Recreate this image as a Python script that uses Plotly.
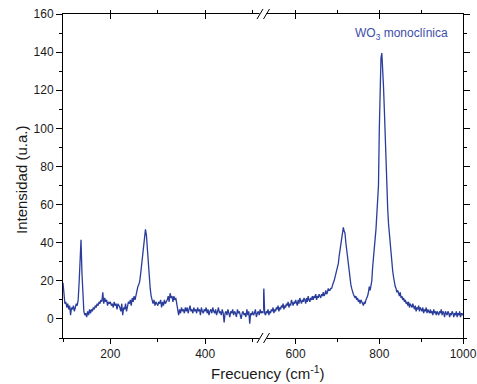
import numpy as np
import plotly.graph_objects as go

# ---- data ----
# left segment of the broken axis: 100 ... 522 cm-1, sampled every 2 cm-1
x_left_start, x_left_end, x_step = 100, 522, 2
y_left_a = [19, 12, 8, 9, 6, 8, 5, 7, 2, 6,
            5, 7, 4, 6, 8, 7, 10, 19, 30, 41.5,
            24, 11, 4, 2, 3, 1, 4, 2, 5, 3,
            5, 4, 6, 5, 7, 6, 8, 7, 9, 8,
            10, 9, 14, 8, 11, 9, 10, 7, 9, 8]
y_left_b = [9, 7, 8, 6, 9, 7, 8, 5, 8, 7,
            6, 4, 8, 2, 6, 5, 8, 4, 7, 9,
            8, 10, 7, 11, 9, 12, 10, 13, 14, 17,
            18, 20, 24, 29, 34, 40, 44, 47, 44, 36,
            28, 21, 16, 12, 10, 8, 10, 7, 9, 8]
y_left_c = [7, 9, 8, 10, 6, 9, 7, 10, 8, 9,
            10, 12, 9, 13.5, 11, 12, 9, 12, 10, 11,
            8, 4, 2, 5, 3, 6, 4, 5, 3, 6,
            4, 6, 3, 5, 7, 4, 5, 3, 6, 4,
            5, 3, 6, 4, 5, 2, 6, 4, 3, 5]
y_left_d = [4, 6, 3, 5, 2, 4, 5, 3, 6, 4,
            3, 5, 2, 4, 6, 3, 4, 2, 5, 3,
            -1.8, 3, 4, 2, 5, 3, 1, 4, 3, 5,
            2, 4, 3, 1, 5, 3, 4, 2, 0, 3,
            4, 2, 3, 1, 5, 2, 4, -2.5, 3, 2,
            4, 2, 3, 5, 1, 3, 4, 2, 5, 3,
            4, 3]

# right segment of the broken axis: 522 ... 1000 cm-1, sampled every 2 cm-1
x_right_start, x_right_end = 522, 1000
y_right_a = [3, 16, 3, 2, 4, 3, 5, 2, 4, 3,
             5, 4, 6, 3, 5, 4, 6, 5, 7, 4,
             6, 5, 7, 6, 8, 5, 7, 6, 8, 7,
             9, 6, 8, 7, 10, 8, 7, 9, 8, 10,
             9, 7, 10, 8, 11, 9, 8, 10, 9, 11,
             10, 8, 11, 9, 12, 10, 9, 11, 10, 12,
             10, 12, 11, 13, 10, 12, 11, 13, 12, 11,
             13, 12, 14, 12, 13, 15, 13, 14, 16, 15]
y_right_b = [15, 16, 16, 18, 19, 20, 22, 24, 25, 27,
             29, 33, 36, 40, 42, 44, 48, 46, 45, 40,
             36, 33, 28, 24, 21, 18, 16, 14, 13, 12,
             11, 12, 10, 11, 9, 10, 8, 10, 9, 8,
             7, 9, 8, 10, 11, 12, 14, 17, 15, 18]
y_right_c = [20, 27, 31, 36, 42, 47, 53, 59, 70, 100,
             125, 137, 139.5, 133, 122, 110, 95, 85, 68, 58,
             50, 45, 38, 32, 28, 25, 22, 19, 17, 16]
y_right_d = [14, 15, 13, 12, 14, 11, 12, 10, 11, 9,
             10, 8, 9, 7, 9, 6, 8, 7, 6, 8,
             6, 5, 7, 4, 6, 5, 7, 4, 6, 5,
             4, 6, 3, 5, 4, 6, 3, 5, 4, 3,
             5, 3, 4, 2, 5, 3, 4, 2, 4, 3,
             2, 4, 3, 5, 2, 4, 3, 1, 4, 3,
             2, 4, 3, 1, 3, 2, 4, 3, 1, 3,
             2, 4, 1, 3, 2, 4, 1, 3, 2, 3]

label_text = "WO<sub>3</sub> monoclínica"
x_title = "Frecuency (cm<sup>-1</sup>)"
y_title = "Intensidad (u.a.)"

x_left = np.arange(x_left_start, x_left_end + 1, x_step)
x_right = np.arange(x_right_start, x_right_end + 1, x_step)
y_left = y_left_a + y_left_b + y_left_c + y_left_d
y_right = y_right_a + y_right_b + y_right_c + y_right_d

# ---- style ----
LINE = "#2B3D9B"
LABEL = "#3D4DAA"
FONT = "Liberation Sans, Arial, sans-serif"
TXT = "#1a1a1a"
W, H = 477, 384
ML, MR, MT, MB = 63, 14, 14, 46
PW, PH = W - ML - MR, H - MT - MB
BRK = 0.5

def px(x):
    return (x - ML) / PW

def py(y):
    return (H - MB - y) / PH

fig = go.Figure()
fig.add_trace(go.Scatter(x=x_left, y=y_left, mode="lines",
                         line=dict(color=LINE, width=1.3),
                         xaxis="x", yaxis="y", showlegend=False))
fig.add_trace(go.Scatter(x=x_right, y=y_right, mode="lines",
                         line=dict(color=LINE, width=1.3),
                         xaxis="x2", yaxis="y", showlegend=False))
# empty traces so the mirrored frame axes (top, right) get drawn
for xa, ya in (("x3", "y"), ("x4", "y"), ("x2", "y2")):
    fig.add_trace(go.Scatter(x=[], y=[], mode="lines", xaxis=xa, yaxis=ya,
                             showlegend=False, hoverinfo="skip"))

axbase = dict(showgrid=False, zeroline=False, showline=True, linecolor="black",
              linewidth=1, tickcolor="black", tickwidth=1, automargin=False,
              tickfont=dict(family=FONT, size=12, color=TXT))

bottom = dict(axbase, ticks="outside", ticklen=5, tick0=0, dtick=200,
              minor=dict(ticks="outside", ticklen=3, dtick=100, tick0=0,
                         tickcolor="black"))
top = dict(axbase, ticks="inside", ticklen=5, tick0=0, dtick=200,
           showticklabels=False, side="top",
           minor=dict(ticks="outside", ticklen=3, dtick=100, tick0=0,
                      tickcolor="black"))

fig.update_layout(
    width=W, height=H,
    margin=dict(l=ML, r=MR, t=MT, b=MB),
    paper_bgcolor="white", plot_bgcolor="white",
    xaxis=dict(bottom, domain=[0, BRK], range=[x_left_start, x_left_end], anchor="y"),
    xaxis2=dict(bottom, domain=[BRK, 1], range=[x_right_start, x_right_end], anchor="y"),
    xaxis3=dict(top, domain=[0, BRK], range=[x_left_start, x_left_end], anchor="y",
                overlaying="x"),
    xaxis4=dict(top, domain=[BRK, 1], range=[x_right_start, x_right_end], anchor="y",
                overlaying="x2"),
    yaxis=dict(axbase, range=[-10, 160], tick0=0, dtick=20, ticks="outside", ticklen=6,
               anchor="x", side="left",
               minor=dict(ticks="outside", ticklen=3, dtick=10, tick0=0,
                          tickcolor="black")),
    yaxis2=dict(axbase, range=[-10, 160], tick0=0, dtick=20, ticks="outside", ticklen=6,
                anchor="x2", side="right", overlaying="y", showticklabels=False,
                minor=dict(ticks="outside", ticklen=3, dtick=10, tick0=0,
                           tickcolor="black")),
)

# break marks on bottom and top axis lines
shapes = []
for yl in (H - MB, MT):
    shapes.append(dict(type="line", xref="paper", yref="paper",
                       x0=px(259.5), x1=px(266.5), y0=py(yl), y1=py(yl),
                       line=dict(color="white", width=3)))
    for cx in (260.0, 266.5):
        shapes.append(dict(type="line", xref="paper", yref="paper",
                           x0=px(cx - 3), x1=px(cx + 3), y0=py(yl + 5), y1=py(yl - 5),
                           line=dict(color="black", width=1)))
fig.update_layout(shapes=shapes)

fig.add_annotation(x=px(401.5), y=py(34), xref="paper", yref="paper",
                   text=label_text, showarrow=False,
                   font=dict(family=FONT, size=12, color=LABEL),
                   xanchor="center", yanchor="middle")
fig.add_annotation(x=px(268), y=py(372), xref="paper", yref="paper",
                   text=x_title, showarrow=False,
                   font=dict(family=FONT, size=15, color=TXT),
                   xanchor="center", yanchor="middle")
fig.add_annotation(x=px(21), y=py(180), xref="paper", yref="paper",
                   text=y_title, showarrow=False, textangle=-90,
                   font=dict(family=FONT, size=15, color=TXT),
                   xanchor="center", yanchor="middle")

fig.write_html("out.html", config={"displayModeBar": False},
               post_script="document.body.style.margin='0';")
